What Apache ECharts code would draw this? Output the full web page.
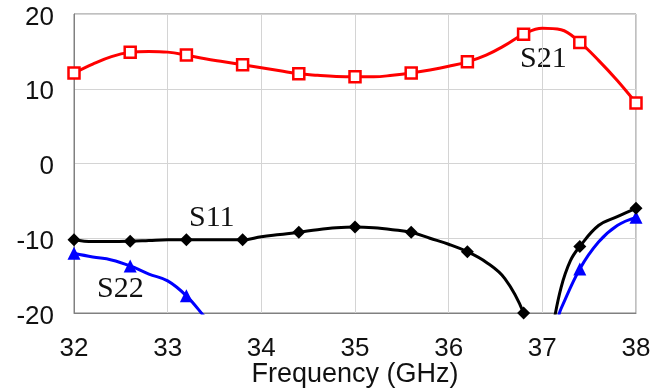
<!DOCTYPE html>
<html>
<head>
<meta charset="utf-8">
<script src="https://cdn.jsdelivr.net/npm/echarts@6/dist/echarts.min.js"></script>
<style>
html,body{margin:0;padding:0;background:#fff;}
#chart{width:665px;height:388px;}
</style>
</head>
<body>
<div id="chart"></div>
<script>
// Frequency axis ticks and y ticks
var xTicks = [32, 33, 34, 35, 36, 37, 38];
var yTicks = [-20, -10, 0, 10, 20];
// Marker frequencies (symbols shown only here)
var markerFreqs = [32, 32.6, 33.2, 33.8, 34.4, 35, 35.6, 36.2, 36.8, 37.4, 38];

// S21 (dB)
var s21Freq = [32, 32.2, 32.4, 32.6, 32.8, 33, 33.2, 33.4, 33.6, 33.8, 34, 34.2, 34.4, 34.6, 34.8, 35, 35.2, 35.4, 35.6, 35.8, 36, 36.2, 36.4, 36.6, 36.8, 37, 37.2, 37.4, 37.6, 37.8, 38];
var s21 = [12.1, 13.3, 14.3, 14.87, 15.0, 14.9, 14.5, 14.0, 13.6, 13.2, 12.8, 12.4, 12.0, 11.8, 11.65, 11.6, 11.6, 11.8, 12.1, 12.5, 13.0, 13.6, 14.5, 15.8, 17.3, 18.1, 17.9, 16.2, 13.8, 11.1, 8.1];

// S11 (dB)
var s11Freq = [32, 32.2, 32.4, 32.6, 32.8, 33, 33.2, 33.4, 33.6, 33.8, 34, 34.2, 34.4, 34.6, 34.8, 35, 35.2, 35.4, 35.6, 35.8, 36, 36.2, 36.4, 36.6, 36.8, 37, 37.1, 37.2, 37.3, 37.4, 37.6, 37.8, 38];
var s11 = [-10.2, -10.45, -10.45, -10.4, -10.3, -10.2, -10.2, -10.2, -10.2, -10.2, -9.8, -9.5, -9.2, -8.85, -8.6, -8.5, -8.6, -8.85, -9.2, -10.0, -10.8, -11.8, -13.2, -15.4, -20.0, -28.0, -22.5, -16.6, -13.0, -11.1, -8.3, -7.1, -6.0];

// S22 (dB)
var s22Freq = [32, 32.2, 32.4, 32.6, 32.8, 33, 33.2, 33.4, 33.6, 37.0, 37.2, 37.4, 37.6, 37.8, 38];
var s22 = [-12.0, -12.5, -12.9, -13.7, -14.8, -15.7, -17.7, -20.6, -23.5, -25.0, -19.4, -14.1, -10.5, -8.3, -7.2];

function pairs(fx, vy) { return fx.map(function (f, i) { return [f, vy[i]]; }); }
function isMarker(f) { return markerFreqs.some(function (m) { return Math.abs(m - f) < 1e-6; }); }
function sizeFn(sz) { return function (v) { return isMarker(v[0]) ? sz : 0; }; }

var chart = echarts.init(document.getElementById('chart'), null, {renderer: 'canvas'});
chart.setOption({
  animation: false,
  backgroundColor: '#fff',
  grid: {left: 74, right: 29, top: 14, bottom: 75, show: true, borderColor: '#808080', borderWidth: 1,
    containLabel: false, outerBoundsMode: 'none'},
  xAxis: {
    type: 'value', min: 32, max: 38, interval: 1,
    name: 'Frequency (GHz)', nameLocation: 'middle', nameGap: 48, nameMoveOverlap: false,
    nameTextStyle: {fontFamily: 'Liberation Sans', fontSize: 27, color: '#111'},
    axisLine: {onZero: false, lineStyle: {color: '#808080', width: 1}},
    axisTick: {show: false},
    axisLabel: {fontFamily: 'Liberation Sans', fontSize: 26, color: '#111', margin: 23,
      formatter: function (v) { return xTicks.indexOf(v) >= 0 ? String(v) : ''; }},
    splitLine: {show: true, lineStyle: {color: '#d4d4d4', width: 1}}
  },
  yAxis: {
    type: 'value', min: -20, max: 20, interval: 10,
    axisLine: {show: true, onZero: false, lineStyle: {color: '#808080', width: 1}},
    axisTick: {show: false},
    axisLabel: {color: '#111', margin: 20,
      formatter: function (v) { return yTicks.indexOf(v) >= 0 ? '{a|' + v + '}' : ''; },
      rich: {a: {fontFamily: 'Liberation Sans', fontSize: 26, color: '#111', padding: [7, 0, 0, 0]}}},
    splitLine: {show: true, lineStyle: {color: '#d4d4d4', width: 1}}
  },
  series: [
    {
      name: 'S21', type: 'line', smooth: 0.4, clip: true,
      data: pairs(s21Freq, s21),
      symbol: 'rect', symbolSize: sizeFn(11), showSymbol: true,
      lineStyle: {color: '#ff0000', width: 3},
      itemStyle: {color: '#ffffff', borderColor: '#ff0000', borderWidth: 2.5},
      z: 3
    },
    {
      name: 'S11', type: 'line', smooth: 0.4, clip: true,
      data: pairs(s11Freq, s11),
      symbol: 'diamond', symbolSize: sizeFn(13), showSymbol: true,
      lineStyle: {color: '#000000', width: 3},
      itemStyle: {color: '#000000'},
      z: 3
    },
    {
      name: 'S22', type: 'line', smooth: 0.4, clip: true,
      data: pairs(s22Freq, s22),
      symbol: 'triangle', symbolSize: sizeFn(13), showSymbol: true,
      lineStyle: {color: '#0000ff', width: 3},
      itemStyle: {color: '#0000ff'},
      z: 2
    }
  ],
  graphic: [
    {type: 'text', left: 520, top: 44, style: {text: 'S21', font: '30px "Liberation Serif"', fill: '#111'}},
    {type: 'text', left: 189, top: 203, style: {text: 'S11', font: '30px "Liberation Serif"', fill: '#111'}},
    {type: 'text', left: 97, top: 274, style: {text: 'S22', font: '30px "Liberation Serif"', fill: '#111'}}
  ]
});
</script>
</body>
</html>
